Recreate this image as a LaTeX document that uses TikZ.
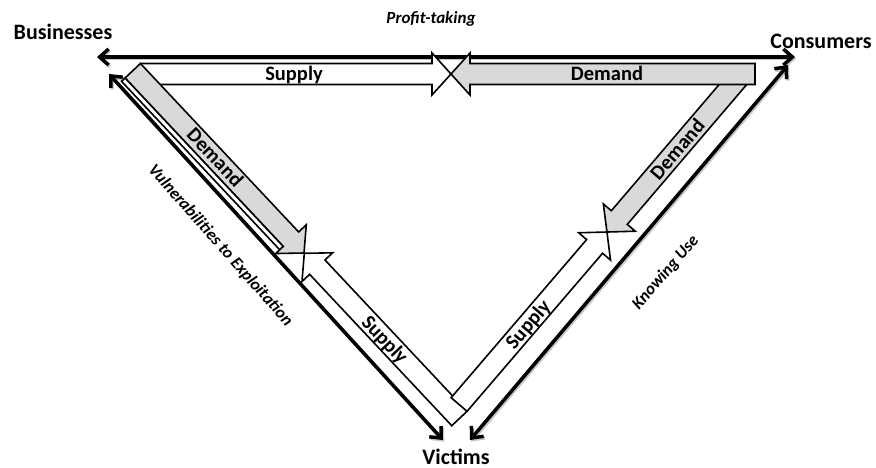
\documentclass[tikz,border=0pt]{standalone}
\usepackage{fontspec}
\setmainfont{Carlito}
\usetikzlibrary{arrows.meta}
\definecolor{arrgray}{RGB}{217,217,217}
\tikzset{
  blk/.style={draw=black, line width=1.6pt, line join=miter},
  bigarrow/.style={line width=3.5pt, {Straight Barb[length=9pt,width=16pt]}-{Straight Barb[length=9pt,width=16pt]}},
  bigshadow/.style={bigarrow, draw=black!22, transform canvas={shift={(1.2pt,-1.6pt)}}},
  corner/.style={font=\bfseries\fontsize{22}{24}\selectfont, inner sep=0pt, anchor=base},
  inlab/.style={font=\bfseries\fontsize{20.5}{22}\selectfont, inner sep=0pt, text height=13.2pt, text depth=0pt},
  sidelab/.style={font=\bfseries\itshape\fontsize{17}{19}\selectfont, inner sep=0pt, text height=11pt, text depth=0pt},
}
% #1 tail point, #2 visual angle, #3 length, #4 fill
\newcommand\blkarrow[4]{%
  \begin{scope}[shift={#1}, rotate=#2]
    \draw[blk, fill=#4] (0,-10.5) -- ({#3-19},-10.5) -- ({#3-19},-21) -- (#3,0)
      -- ({#3-19},21) -- ({#3-19},10.5) -- (0,10.5) -- cycle;
  \end{scope}}
\begin{document}
\begin{tikzpicture}[x=1pt,y=-1pt]
\useasboundingbox (0,0) rectangle (876,468);
% corner labels
\node[corner] (bus) at (63,40) {Businesses};
\node[corner] (con) at (821,49) {Consumers};
\node[corner] (vic) at (456,464) {Victims};
% end points of the long connectors
\coordinate (bT) at (97,57);
\coordinate (cT) at (795,57);
\coordinate (bL) at (109,74);
\coordinate (vL) at (443,440);
\coordinate (vR) at (470,440);
\coordinate (cR) at (788,65);
\draw[bigshadow] (bT) -- (cT);
\draw[bigshadow] (bL) -- (vL);
\draw[bigshadow] (vR) -- (cR);
\draw[bigarrow] (bT) -- (cT);
\draw[bigarrow] (bL) -- (vL);
\draw[bigarrow] (vR) -- (cR);
% side labels
\node[sidelab] (profit) at (431,18) {Profit-taking};
\node[sidelab, rotate=-48.5] (vuln) at (221,245) {Vulnerabilities to Exploitation};
\node[sidelab, rotate=49] (know) at (665,272) {Knowing Use};
% top row
\blkarrow{(140.5,74)}{0}{310.5}{white}
% left strip
\begin{scope}[shift={(132.8,70.7)}, rotate=-46.8]
  \draw[blk, fill=white] (0,10.5) rectangle (231.1,15.5);
\end{scope}
\blkarrow{(132.8,70.7)}{-46.8}{250.1}{arrgray}
\blkarrow{(459.4,418.5)}{133.2}{226.6}{white}
% right side
\blkarrow{(742.7,73.1)}{229.5}{209}{arrgray}
\blkarrow{(755,74)}{180}{304}{arrgray}
\blkarrow{(459.1,404.5)}{49.4}{227.2}{white}
% arrow labels
\node[inlab] (supT) at (294,74) {Supply};
\node[inlab] (demT) at (607,74) {Demand};
\node[inlab, rotate=-46.8] (demL) at (215,157.5) {Demand};
\node[inlab, rotate=-46.8] (supL) at (385,339.5) {Supply};
\node[inlab, rotate=49.5] (demR) at (677.5,149.5) {Demand};
\node[inlab, rotate=49.5] (supR) at (528,324.5) {Supply};
\end{tikzpicture}
\end{document}
